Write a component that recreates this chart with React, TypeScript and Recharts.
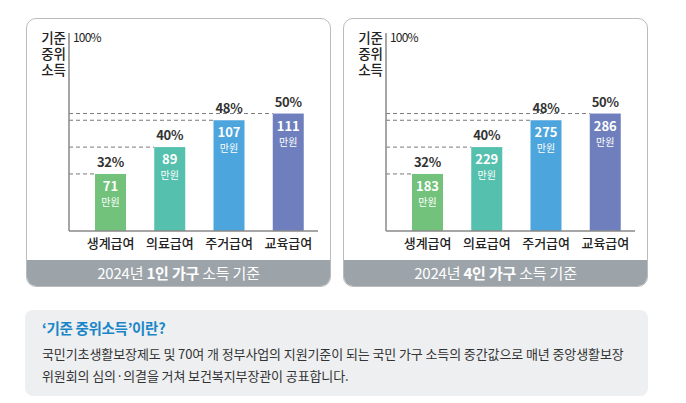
import { BarChart, Bar, XAxis, YAxis, Cell, LabelList } from 'recharts';

const CATEGORIES = ['생계급여', '의료급여', '주거급여', '교육급여'];
const PERCENTS = [32, 40, 48, 50];
const AMOUNTS_1 = [71, 89, 107, 111];
const AMOUNTS_4 = [183, 229, 275, 286];
const BAR_COLORS = ['#72c27c', '#55c0ad', '#4ca5dc', '#6f7fbd'];
const Y_TITLE = ['기준', '중위', '소득'];

const FONT = '"Noto Sans CJK KR", "Noto Sans", sans-serif';
const PLOT_LEFT = 42;
const MARGIN = { top: 14, right: 12, bottom: 0, left: PLOT_LEFT - 1 };

const BarWithGuide = (props: any) => {
  const { x, y, width, height, fill } = props;
  return (
    <g>
      <line x1={PLOT_LEFT} y1={y} x2={x} y2={y} stroke="#7a7a7a" strokeWidth={1} strokeDasharray="4 3" />
      <rect x={x} y={y} width={width} height={height} fill={fill} />
    </g>
  );
};

const makeLabel = (amounts: number[]) => (props: any) => {
  const { x, y, width, index, value } = props;
  const cx = x + width / 2;
  return (
    <g fontFamily={FONT}>
      <text x={cx} y={y - 7} textAnchor="middle" fontSize={13} fontWeight={700} fill="#333" letterSpacing={-0.3}>
        {value}%
      </text>
      <text x={cx} y={y + 17} textAnchor="middle" fontSize={13} fontWeight={700} fill="#fff">
        {amounts[index]}
      </text>
      <text x={cx} y={y + 32} textAnchor="middle" fontSize={10} fill="#fff">
        만원
      </text>
    </g>
  );
};

function Panel({ left, amounts, people }: { left: number; amounts: number[]; people: string }) {
  const data = CATEGORIES.map((name, i) => ({ name, pct: PERCENTS[i] }));
  return (
    <div
      style={{
        position: 'absolute',
        left,
        top: 18,
        width: 303,
        height: 267,
        border: '1px solid #b9bcbf',
        borderRadius: 10,
        overflow: 'hidden',
        background: '#fff',
        fontFamily: FONT,
      }}
    >
      {Y_TITLE.map((t, i) => (
        <div
          key={t}
          style={{
            position: 'absolute',
            left: 9,
            top: 10 + i * 16,
            width: 30,
            height: 16,
            textAlign: 'right',
            fontSize: 13.5,
            fontWeight: 500,
            lineHeight: '16px',
            color: '#222',
          }}
        >
          {t}
        </div>
      ))}
      <div style={{ position: 'absolute', left: 46, top: 10, fontSize: 12, lineHeight: '15px', color: '#222', letterSpacing: -0.8 }}>
        100%
      </div>
      <div style={{ position: 'absolute', left: 0, top: 0 }}>
        <BarChart width={303} height={241} data={data} margin={MARGIN} barSize={31}>
          <XAxis
            dataKey="name"
            padding={{ left: 12, right: 0 }}
            tickLine={false}
            axisLine={{ stroke: '#888', strokeWidth: 1.5 }}
            tick={{ fill: '#222', fontSize: 13, fontFamily: FONT, fontWeight: 500 }}
            height={29}
            interval={0}
          />
          <YAxis width={1} domain={[15, 74]} tick={false} tickLine={false} axisLine={{ stroke: '#888', strokeWidth: 1.5 }} />
          <Bar dataKey="pct" shape={<BarWithGuide />} isAnimationActive={false}>
            {data.map((d, i) => (
              <Cell key={d.name} fill={BAR_COLORS[i]} />
            ))}
            <LabelList dataKey="pct" content={makeLabel(amounts)} />
          </Bar>
        </BarChart>
      </div>
      <div
        style={{
          position: 'absolute',
          left: 0,
          right: 0,
          bottom: 0,
          height: 26,
          background: '#9ca4aa',
          color: '#fff',
          fontSize: 15,
          lineHeight: '26px',
          textAlign: 'center',
          letterSpacing: -0.2,
        }}
      >
        2024년 <b>{people} 가구</b> 소득 기준
      </div>
    </div>
  );
}

export default function App() {
  return (
    <div style={{ position: 'absolute', left: 0, top: 0, width: 686, height: 403, background: '#fff', fontFamily: FONT }}>
      <Panel left={26} amounts={AMOUNTS_1} people="1인" />
      <Panel left={343} amounts={AMOUNTS_4} people="4인" />
      <div
        style={{
          position: 'absolute',
          left: 25,
          top: 310,
          width: 623,
          height: 86,
          background: '#eeeff1',
          borderRadius: 8,
        }}
      >
        <div style={{ position: 'absolute', left: 17, top: 7, fontSize: 14.5, fontWeight: 700, color: '#1a86c8', letterSpacing: -0.3 }}>
          ‘기준 중위소득’이란?
        </div>
        <div style={{ position: 'absolute', left: 17, top: 33, fontSize: 13, lineHeight: '22px', color: '#333', whiteSpace: 'nowrap', letterSpacing: -0.1 }}>
          국민기초생활보장제도 및 70여 개 정부사업의 지원기준이 되는 국민 가구 소득의 중간값으로 매년 중앙생활보장
          <br />
          위원회의 심의·의결을 거쳐 보건복지부장관이 공표합니다.
        </div>
      </div>
    </div>
  );
}
